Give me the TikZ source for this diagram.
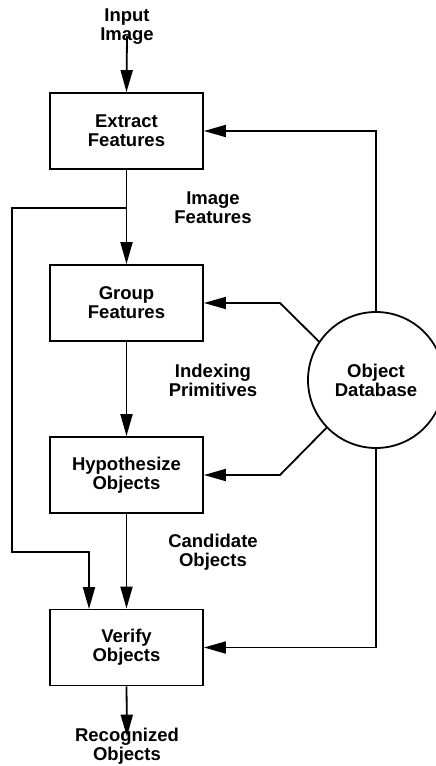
\documentclass[tikz,border=0pt]{standalone}
\usepackage{fontspec}
\setmainfont{Liberation Sans}
\usetikzlibrary{arrows.meta}
\begin{document}
\begin{tikzpicture}[x=1pt,y=-1pt,
  every node/.style={font=\fontsize{18.5}{19}\selectfont\bfseries, align=center},
  box/.style={draw, line width=1.8pt, minimum width=153pt, minimum height=76pt, inner sep=0pt},
  db/.style={draw, circle, line width=1.8pt, minimum size=136pt, inner sep=0pt},
  lbl/.style={inner sep=0pt},
  arr/.style={line width=1.8pt, -{Triangle[length=22pt,width=12pt]}}]
\useasboundingbox (0,0) rectangle (436,766);
\node[box] (ex) at (126.5,131) {Extract\\Features};
\node[box] (gr) at (126.5,303) {Group\\Features};
\node[box] (hy) at (126.5,475) {Hypothesize\\Objects};
\node[box] (ve) at (126.5,647.5) {Verify\\Objects};
\node[db] (db) at (376,380) {Object\\Database};
\node[lbl] (in) at (127,27) {Input\\Image};
\node[lbl] (imf) at (213,208) {Image\\Features};
\node[lbl] (ixp) at (213,380) {Indexing\\Primitives};
\node[lbl] (cno) at (213,552) {Candidate\\Objects};
\node[lbl] (rco) at (127,746) {Recognized\\Objects};
\coordinate (br) at (127,208);
\coordinate (ve2) at (89,609);
% main flow
\draw[arr] ([yshift=9pt]in.south) -- (ex.north);
\draw[arr] (ex.south) -- (gr.north);
\draw[arr] (gr.south) -- (hy.north);
\draw[arr] (hy.south) -- (ve.north);
\draw[arr] (ve.south) -- ([yshift=-9pt]rco.north);
% bypass
\draw[arr] (br) -- (12,208) -- (12,552) -- (89,552) -- (ve2);
% database links
\draw[arr] (db.north) -- (376,131) -- (ex.east);
\draw[arr] (db.south) -- (376,647.5) -- (ve.east);
\draw[arr] (db.146) -- (280,303) -- (gr.east);
\draw[arr] (db.224) -- (280,475) -- (hy.east);
\end{tikzpicture}
\end{document}
